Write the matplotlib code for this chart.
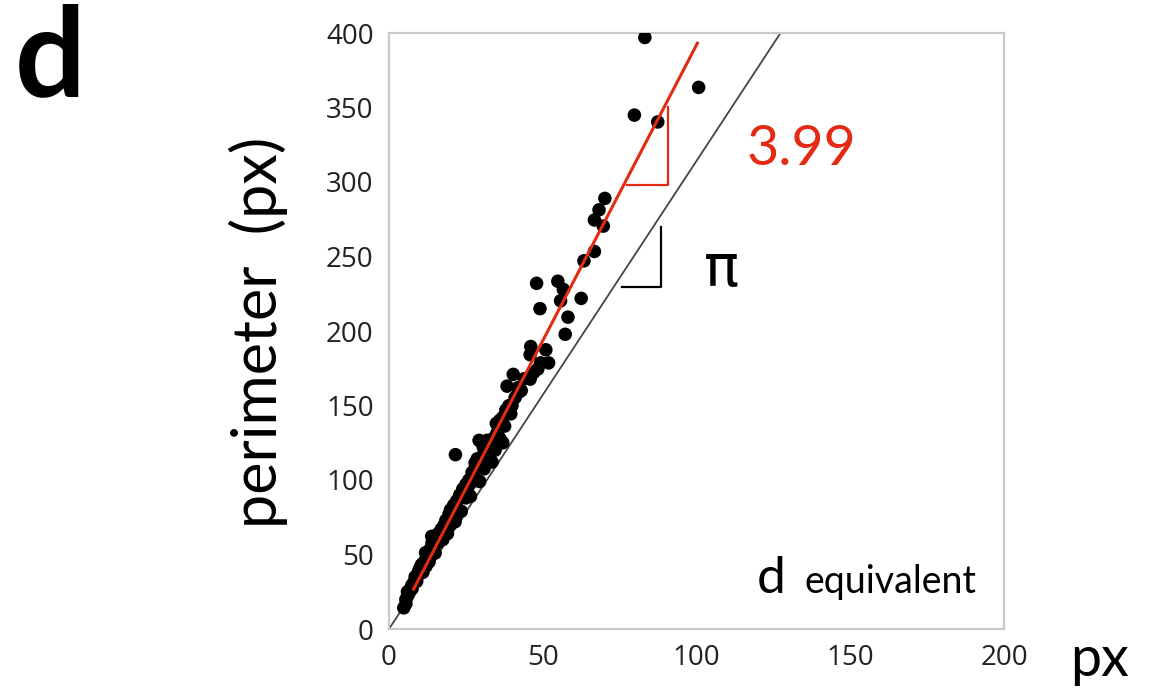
import numpy as np
import matplotlib
matplotlib.use("Agg")
import matplotlib.pyplot as plt

# measured cells: equivalent diameter (px) vs perimeter (px)
d_equiv = [
    83.2, 100.7, 79.8, 87.4, 70.2, 68.3, 66.8, 69.7, 66.8, 63.4,
    48.0, 54.9, 56.7, 55.8, 49.1, 62.5, 58.2, 57.3, 46.1, 45.9,
    51.0, 49.3, 51.9, 48.4, 45.9, 40.4, 38.4, 42.2, 41.0, 39.0,
    39.6, 34.9, 37.6, 35.6, 29.3, 31.9, 33.8, 30.6, 34.5, 31.9,
    21.6, 28.7, 30.6, 28.0, 30.9, 27.1, 26.5, 25.5, 24.4, 22.2,
    20.9, 19.7, 18.4, 16.4, 13.9, 15.1, 11.9, 13.2, 9.9, 8.7,
    7.4, 6.1, 5.5, 4.8,
    5.5, 6.5, 7.0, 8.0, 9.0, 9.5, 10.5, 11.0, 12.0, 12.5,
    13.5, 14.5, 15.5, 16.0, 17.0, 18.0, 18.5, 19.5, 20.0, 21.0,
    22.0, 23.0, 24.0, 25.0, 26.0, 27.0, 28.0, 29.0, 30.0, 31.0,
    32.0, 33.0, 34.0, 35.0, 36.0, 37.0, 38.0, 40.0, 42.0, 44.0,
    10.0, 12.0, 14.0, 16.0, 20.0, 22.0, 25.0, 28.0, 32.0, 36.0,
    7.5, 9.0, 11.0, 13.0, 15.0, 17.5, 19.0, 21.5, 23.5, 26.5,
    29.5, 33.5, 37.0, 6.0, 8.5, 10.5, 12.5, 14.0, 17.0, 24.5,
    27.5, 30.5, 35.0, 43.0, 47.0,
]
perimeter = [
    397.0, 363.5, 344.9, 340.3, 289.0, 281.3, 274.5, 270.4, 253.4, 247.1,
    232.0, 233.4, 227.9, 220.3, 215.0, 221.9, 209.3, 197.8, 189.6, 184.1,
    187.4, 178.6, 178.6, 174.5, 167.7, 170.9, 163.0, 158.9, 155.3, 149.9,
    144.4, 138.0, 136.2, 134.0, 126.6, 126.6, 124.4, 122.5, 120.0, 118.3,
    117.0, 114.2, 110.1, 111.5, 107.5, 101.9, 97.8, 93.7, 89.6, 81.3,
    78.7, 71.8, 66.3, 62.2, 62.2, 58.1, 51.2, 47.1, 40.3, 34.8,
    29.3, 22.5, 17.0, 14.2,
    20.0, 24.0, 27.0, 31.0, 35.0, 38.0, 42.0, 44.0, 47.0, 50.0,
    54.0, 57.0, 60.0, 64.0, 67.0, 70.0, 73.0, 77.0, 80.0, 83.0,
    86.0, 90.0, 94.0, 97.0, 100.0, 105.0, 108.0, 112.0, 115.0, 119.0,
    121.0, 125.0, 128.0, 131.0, 140.0, 142.0, 147.0, 150.0, 162.0, 168.0,
    37.0, 42.0, 50.0, 58.0, 70.0, 76.0, 88.0, 100.0, 112.0, 128.0,
    27.0, 32.0, 38.0, 45.0, 51.0, 60.0, 64.0, 72.0, 79.0, 89.0,
    99.0, 112.0, 125.0, 25.0, 35.0, 43.0, 51.0, 58.0, 63.0, 92.0,
    103.0, 111.0, 123.0, 160.0, 172.0,
]

fit_slope = 3.97
fit_intercept = -5.0
fit_range = [8.0, 100.3]
circle_slope = np.pi

x_ticks = [0, 50, 100, 150, 200]
y_ticks = [0, 50, 100, 150, 200, 250, 300, 350, 400]

red = "#e42a12"
spine_grey = "#c9c9c9"

fig = plt.figure(figsize=(11.54, 6.9), dpi=100)
ax = fig.add_axes([389 / 1154, 1 - 629 / 690, 615 / 1154, 596 / 690])

# pi reference line through the origin
xs = np.array([0, 400 / circle_slope])
ax.plot(xs, circle_slope * xs, color="#454545", lw=1.3, zorder=2)

ax.scatter(d_equiv, perimeter, s=95, color="black", edgecolors="none", zorder=3)

xf = np.array(fit_range)
ax.plot(xf, fit_slope * xf + fit_intercept, color=red, lw=2.2, zorder=4)

# slope triangles
ax.plot([77.5, 90.6, 90.6], [298, 298, 350.5], color=red, lw=1.6, zorder=4)
ax.plot([75.7, 88.6, 88.6], [229.3, 229.3, 270], color="black", lw=1.6, zorder=4)

ax.set_xlim(0, 200)
ax.set_ylim(0, 400)
ax.set_xticks(x_ticks)
ax.set_yticks(y_ticks)
ax.tick_params(length=0, labelsize=20, colors="#222222", pad=11)
for lab in ax.get_xticklabels() + ax.get_yticklabels():
    lab.set_family("Open Sans")
for sp in ax.spines.values():
    sp.set_color(spine_grey)
    sp.set_linewidth(1.6)

ax.text(134, 322, "3.99", color=red, fontsize=40, family="Lato",
        ha="center", va="center")
ax.text(108, 241, "π", color="black", fontsize=42, family="DejaVu Sans",
        ha="center", va="center")
ax.text(119.5, 24, "d", fontsize=37, family="Lato", ha="left", va="baseline")
ax.text(135, 24, "equivalent", fontsize=27, family="Lato", ha="left", va="baseline")

fig.text(258 / 1154, 1 - 332 / 690, "perimeter  (px)", rotation=90, fontsize=44,
         family="Lato", ha="center", va="center")
fig.text(1100 / 1154, 1 - 660 / 690, "px", fontsize=40, family="Lato",
         ha="center", va="center")
fig.text(50 / 1154, 1 - 60 / 690, "d", fontsize=90, family="Lato",
         fontweight="bold", ha="center", va="center")

fig.savefig("out.png", dpi=100)
